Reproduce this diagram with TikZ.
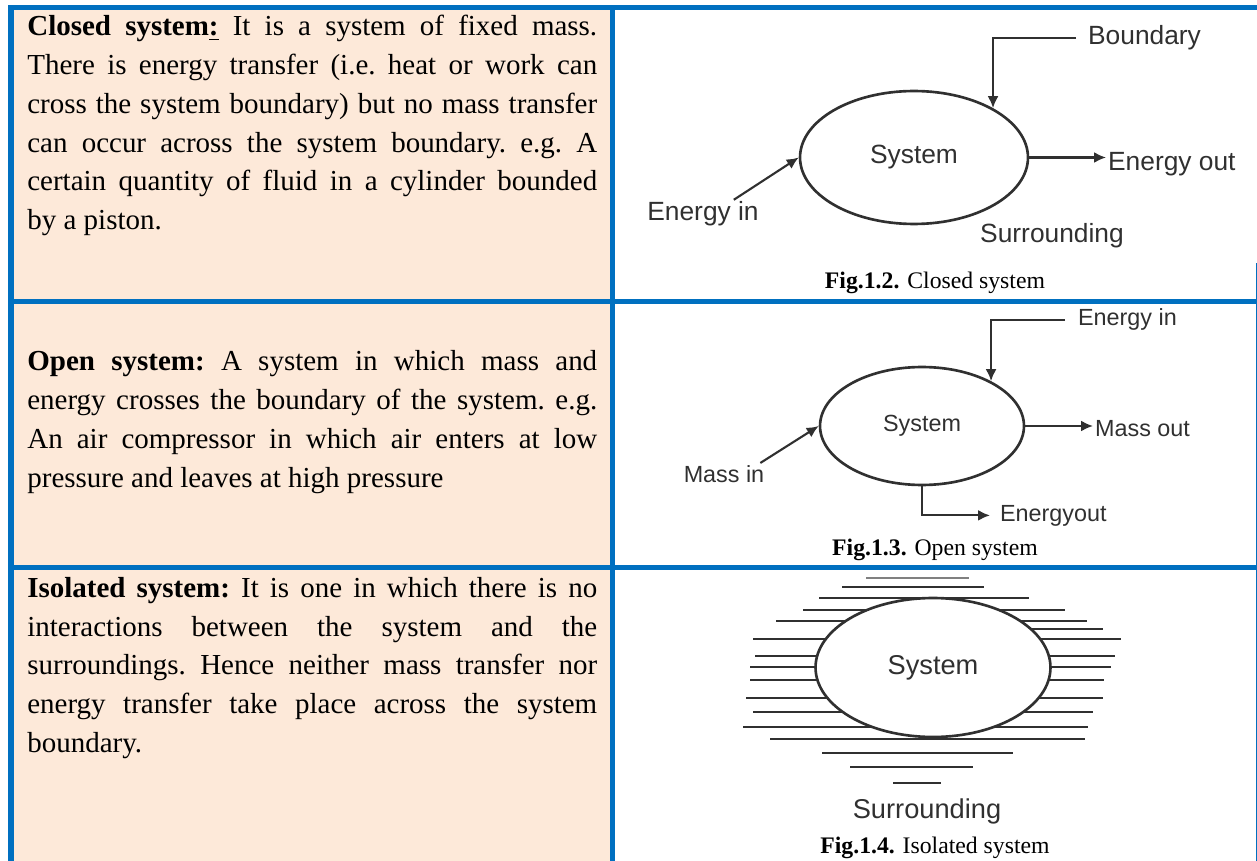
\documentclass[tikz,border=0pt]{standalone}
\usepackage{fontspec}
\setmainfont{Liberation Serif}
\setsansfont{Liberation Sans}
\usepackage{xcolor}
\usetikzlibrary{shapes.geometric, arrows.meta, positioning, calc}
\definecolor{tblblue}{HTML}{0070C0}
\definecolor{peach}{HTML}{FDE9D9}
\definecolor{inkgray}{HTML}{303030}
\tikzstyle{para} = [anchor=base west, inner sep=0pt, text width=11.4cm, align=justify, font=\fontsize{16.5}{22.03}\selectfont\frenchspacing]
\tikzstyle{figcap} = [anchor=base, inner sep=0pt, font=\fontsize{13.5}{16}\selectfont]
\tikzstyle{lbl} = [inner sep=1pt, text=inkgray, font=\sffamily\fontsize{15}{18}\selectfont]
\tikzstyle{lblsmall} = [inner sep=1pt, text=inkgray, font=\sffamily\fontsize{13.3}{16}\selectfont]
\tikzstyle{sysbox} = [ellipse, draw=inkgray, line width=1.5pt, inner sep=0pt, text=inkgray, font=\sffamily\fontsize{15}{18}\selectfont]
\tikzstyle{arrow} = [draw=inkgray, line width=1.2pt, -{Latex[length=0.24cm,width=0.22cm]}]
\tikzstyle{hatch} = [draw=inkgray, line width=1.5pt]

\begin{document}
\begin{tikzpicture}[x=0.02cm, y=-0.02cm]
        \useasboundingbox (0,0) rectangle (1257,861);

        % Table
        \fill [peach] (14,10) rectangle (610,861);
        \fill [tblblue] (8,5) rectangle (1257,10);
        \fill [tblblue] (8,5) rectangle (14,861);
        \fill [tblblue] (610,5) rectangle (615,861);
        \fill [tblblue] (8,299) rectangle (1257,304);
        \fill [tblblue] (8,565) rectangle (1257,570);
        \fill [tblblue] (1255.5,263) rectangle (1257,861);

        % Definitions
        \node (closedtxt) [para] at (27,36) {\textbf{Closed system\underline{:}} It is a system of fixed mass.\linebreak There is energy transfer (i.e. heat or work can\linebreak cross the system boundary) but no mass transfer\linebreak can occur across the system boundary. e.g. A\linebreak certain quantity of fluid in a cylinder bounded\linebreak by a piston.};
        \node (opentxt) [para] at (27,371) {\textbf{Open system:} A system in which mass and\linebreak energy crosses the boundary of the system. e.g.\linebreak An air compressor in which air enters at low\linebreak pressure and leaves at high pressure};
        \node (isotxt) [para] at (27,597.5) {\textbf{Isolated system:} It is one in which there is no\linebreak interactions between the system and the\linebreak surroundings. Hence neither mass transfer nor\linebreak energy transfer take place across the system\linebreak boundary.};

        % Closed system
        \node (sysA) [sysbox, minimum width=4.56cm, minimum height=2.66cm] at (914,157.5) {System};
        \node (bndA) [lbl, anchor=base west] at (1086,44.5) {Boundary};
        \node (eoutA) [lbl, anchor=base west] at (1106,170.5) {Energy out};
        \node (einA) [lbl, anchor=base] at (703,221) {Energy in};
        \node (surA) [lbl, anchor=base] at (1052,243) {Surrounding};
        \node (capA) [figcap] at (935,288.5) {\textbf{Fig.1.2.} Closed system};
        \draw [arrow] ([shift={(-10,0)}]bndA.west) -| (sysA.32);
        \draw [arrow] (sysA.east) -- (sysA.east -| eoutA.west);
        \draw [arrow] ([shift={(-27,0)}]einA.north east) -- (sysA.west);

        % Open system
        \node (sysB) [sysbox, font=\sffamily\fontsize{13.3}{16}\selectfont, minimum width=4.08cm, minimum height=2.36cm] at (922,426) {System};
        \node (einB) [lblsmall, anchor=base west] at (1076,326) {Energy in};
        \node (moutB) [lblsmall, anchor=base west] at (1093,436) {Mass out};
        \node (minB) [lblsmall, anchor=base] at (724,482) {Mass in};
        \node (eoutB) [lblsmall, anchor=base west] at (998,521) {Energyout};
        \node (capB) [figcap] at (935,555) {\textbf{Fig.1.3.} Open system};
        \draw [arrow] ([shift={(-11,0)}]einB.west) -| (sysB.33);
        \draw [arrow] (sysB.east) -- (sysB.east -| moutB.west);
        \draw [arrow] ([shift={(-6,0)}]minB.north east) -- (sysB.west);
        \draw [arrow] (sysB.south) |- ([shift={(-8,0)}]eoutB.west);

        % Isolated system
        \draw [hatch, draw=gray] (866,578) -- (969,578);
        \foreach \y/\xa/\xb in {587/842/984, 598/819/1029, 610/803/1065, 621/776/1087,
                629/1000/1103, 639/753/1121, 656/755/1115, 667/750/1111, 680/750/1104, 698/746/1103,
                712/753/1093, 727/743/1088, 739/770/1085, 753/822/1013, 767/850/973, 783/893/941}
            \draw [hatch] (\xa,\y) -- (\xb,\y);
        \node (sysC) [sysbox, fill=white, font=\sffamily\fontsize{15.5}{18}\selectfont, minimum width=4.7cm, minimum height=2.78cm] at (933,667.5) {System};
        \node (surC) [lbl, font=\sffamily\fontsize{15.5}{18}\selectfont, anchor=base] at (927,818) {Surrounding};
        \node (capC) [figcap] at (935,853) {\textbf{Fig.1.4.} Isolated system};
\end{tikzpicture}
\end{document}
